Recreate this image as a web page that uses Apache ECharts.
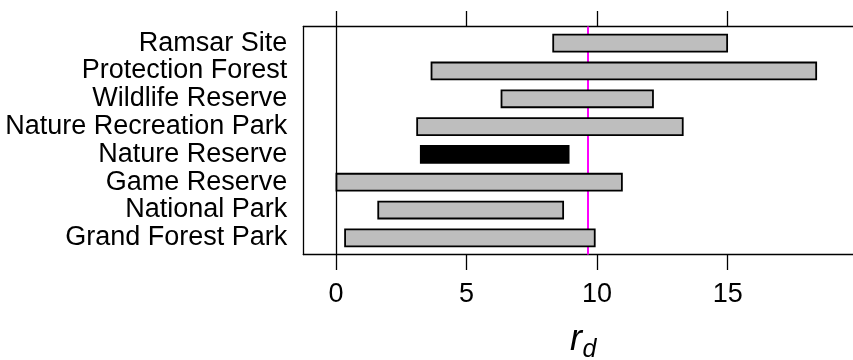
<!DOCTYPE html>
<html>
<head>
<meta charset="utf-8">
<script src="https://cdn.jsdelivr.net/npm/echarts@6/dist/echarts.min.js"></script>
<style>
html,body{margin:0;padding:0;background:#fff;}
#c{width:853px;height:360px;}
</style>
</head>
<body>
<div id="c"></div>
<script>
// Data (top-to-bottom display order)
const categories = ['Ramsar Site','Protection Forest','Wildlife Reserve','Nature Recreation Park','Nature Reserve','Game Reserve','National Park','Grand Forest Park'];
const lower = [8.32, 3.66, 6.34, 3.11, 3.25, 0.02, 1.62, 0.35];
const upper = [14.98, 18.39, 12.14, 13.28, 8.91, 10.95, 8.70, 9.91];
const highlighted = ['Nature Reserve'];
const refValue = 9.65;
const xTicks = [0, 5, 10, 15];

const n = categories.length;
const rowPos = categories.map((c, i) => n - i);
const FONT = '"Liberation Sans", Arial, Helvetica, sans-serif';

const barData = categories.map((c, i) => ({
  value: [lower[i], upper[i], rowPos[i]],
  itemStyle: { color: highlighted.includes(c) ? '#000000' : '#BEBEBE' }
}));

const chart = echarts.init(document.getElementById('c'), null, { renderer: 'canvas' });
chart.setOption({
  animation: false,
  backgroundColor: '#ffffff',
  grid: { left: 303.3, right: -11.7, top: 26.5, bottom: 105.5, containLabel: false },
  xAxis: [
    {
      type: 'value', position: 'bottom', min: -1.25, max: 19.8,
      axisLine: { show: true, onZero: false, lineStyle: { color: '#000', width: 1.3 } },
      axisTick: { show: true, customValues: xTicks, length: 15.5, inside: false, lineStyle: { color: '#000', width: 1.3 } },
      axisLabel: { show: true, customValues: xTicks, color: '#000', fontFamily: FONT, fontSize: 27, margin: 27 },
      splitLine: { show: false }
    },
    {
      type: 'value', position: 'top', min: -1.25, max: 19.8,
      axisLine: { show: true, onZero: false, lineStyle: { color: '#000', width: 1.3 } },
      axisTick: { show: true, customValues: xTicks, length: 15.5, inside: false, lineStyle: { color: '#000', width: 1.3 } },
      axisLabel: { show: false },
      splitLine: { show: false }
    }
  ],
  yAxis: {
    type: 'value', min: 0.4, max: 8.6,
    axisLine: { show: true, onZero: false, lineStyle: { color: '#000', width: 1.3 } },
    axisTick: { show: false },
    axisLabel: {
      show: true, customValues: rowPos, color: '#000', fontFamily: FONT, fontSize: 27, margin: 16,
      formatter: v => categories[n - Math.round(v)]
    },
    splitLine: { show: false }
  },
  graphic: [
    { type: 'text', left: 570, top: 322, style: { text: 'r', fontFamily: FONT, fontStyle: 'italic', fontSize: 36, fill: '#000' } },
    { type: 'text', left: 582.5, top: 338, style: { text: 'd', fontFamily: FONT, fontStyle: 'italic', fontSize: 25, fill: '#000' } }
  ],
  series: [
    {
      type: 'custom',
      xAxisIndex: 0,
      data: [],
      renderItem: function () { return null; },
      z: 1,
      markLine: {
        silent: true, symbol: ['none', 'none'], label: { show: false }, z: 1,
        data: [
          { xAxis: 0, lineStyle: { color: '#000', width: 1.3, type: 'solid' } },
          { xAxis: refValue, lineStyle: { color: '#FF00FF', width: 2, type: 'solid' } }
        ]
      }
    },
    {
      type: 'custom',
      xAxisIndex: 0,
      data: barData,
      renderItem: function (params, api) {
        const p0 = api.coord([api.value(0), api.value(2)]);
        const p1 = api.coord([api.value(1), api.value(2)]);
        const h = api.size([0, 0.61])[1];
        return {
          type: 'rect',
          shape: { x: p0[0], y: p0[1] - h / 2, width: p1[0] - p0[0], height: h },
          style: { fill: api.visual('color'), stroke: '#000', lineWidth: 1.8 }
        };
      },
      z: 5
    }
  ]
});
</script>
</body>
</html>
